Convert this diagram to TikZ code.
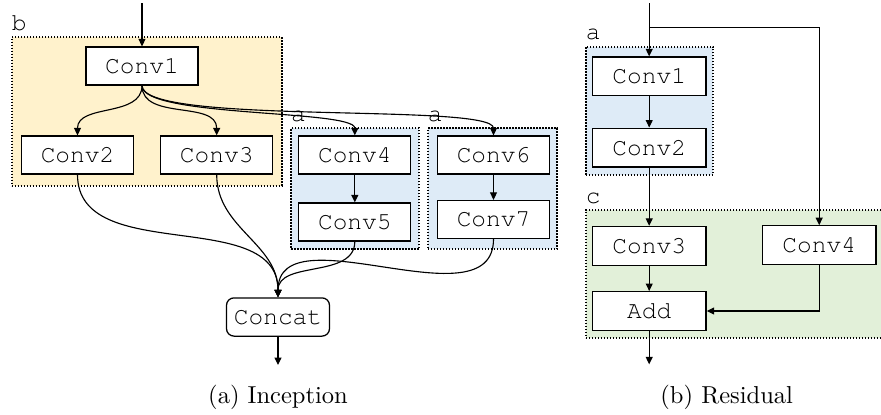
\documentclass[tikz,border=0pt]{standalone}
\usepackage[T1,TU]{fontenc}
\newcommand{\courierfont}{\fontencoding{T1}\fontfamily{pcr}\selectfont}
\usetikzlibrary{arrows.meta}
\definecolor{boxyellow}{HTML}{FFF2CC}
\definecolor{boxblue}{HTML}{DEEBF7}
\definecolor{boxgreen}{HTML}{E2F0D9}
\tikzset{
  grp/.style={draw, line width=0.7pt, dash pattern=on 0.6pt off 0.6pt, inner sep=0pt},
  grplbl/.style={anchor=south west, inner xsep=0.2pt, inner ysep=2pt, font=\fontsize{9.8}{11}\courierfont},
  op/.style={draw, line width=0.5pt, fill=white, minimum width=44.8pt, minimum height=15.2pt, inner sep=0pt, font=\fontsize{9.8}{11}\courierfont},
  rop/.style={op, minimum width=45.5pt, minimum height=15.5pt},
  arr/.style={line width=0.45pt, -{Triangle[length=3pt,width=2.8pt]}},
  subcap/.style={font=\fontsize{9.8}{12}\selectfont, inner sep=0pt}
}
\begin{document}
\begin{tikzpicture}[x=0.4pt, y=0.4pt]
\useasboundingbox (0,0) rectangle (881,-414);
% group boxes
\node[grp, fill=boxyellow, minimum width=108pt, minimum height=59.4pt] (gb) at (146.7,-111.5) {};
\node[grp, fill=boxblue, minimum width=51.3pt, minimum height=48.3pt] (ga1) at (355.2,-188.7) {};
\node[grp, fill=boxblue, minimum width=51.8pt, minimum height=48.3pt] (ga2) at (492.5,-188.7) {};
\node[grp, fill=boxblue, minimum width=51pt, minimum height=51.3pt] (ga3) at (649.5,-110.8) {};
\node[grp, fill=boxgreen, minimum width=119.3pt, minimum height=51.1pt] (gc) at (734.9,-273.9) {};
\node[grplbl] (lb) at (gb.north west) {b};
\node[grplbl] (la1) at (ga1.north west) {a};
\node[grplbl] (la2) at (ga2.north west) {a};
\node[grplbl] (la3) at (ga3.north west) {a};
\node[grplbl] (lc) at (gc.north west) {c};
% (a) Inception
\node[op] (c1) at (142,-66) {Conv1};
\node[op] (c2) at (77.5,-155) {Conv2};
\node[op] (c3) at (216.7,-155) {Conv3};
\node[op] (c4) at (354.8,-155) {Conv4};
\node[op] (c5) at (354.8,-222) {Conv5};
\node[op] (c6) at (493.5,-155) {Conv6};
\node[op] (c7) at (493.5,-219.5) {Conv7};
\node[op, rounded corners=3pt, minimum width=41.2pt, minimum height=15.3pt] (cc) at (278,-317) {Concat};
\coordinate (lin) at (142,-3);
\coordinate (lout) at (278,-365);
\draw[arr] (lin) -- (c1);
\draw[arr] (c1.south) to[out=-90,in=90] (c2.north);
\draw[arr] (c1.south) to[out=-90,in=90] (c3.north);
\draw[arr] (c1.south) .. controls +(0,-32) and +(0,26) .. (c4.north);
\draw[arr] (c1.south) .. controls +(0,-40) and +(0,33) .. (c6.north);
\draw[arr] (c4) -- (c5);
\draw[arr] (c6) -- (c7);
\draw[arr] (c2.south) to[out=-90,in=90] (cc.north);
\draw[arr] (c3.south) to[out=-90,in=90] (cc.north);
\draw[arr] (c5.south) to[out=-90,in=90] (cc.north);
\draw[arr] (c7.south) to[out=-90,in=90] (cc.north);
\draw[arr] (cc) -- (lout);
\node[subcap] (capa) at (278,-397) {(a) Inception};
% (b) Residual
\node[rop] (r1) at (649.2,-76.3) {Conv1};
\node[rop] (r2) at (649.2,-147.5) {Conv2};
\node[rop] (r3) at (649.2,-245.8) {Conv3};
\node[rop] (r4) at (819.2,-245.2) {Conv4};
\node[rop] (add) at (649.2,-311) {Add};
\coordinate (rin) at (649.2,-3);
\coordinate (rsplit) at (649.2,-27.3);
\coordinate (rout) at (649.2,-364.3);
\draw[arr] (rin) -- (r1);
\draw[arr] (rsplit) -| (r4.north);
\draw[arr] (r1) -- (r2);
\draw[arr] (r2) -- (r3);
\draw[arr] (r3) -- (add);
\draw[arr] (r4.south) |- (add.east);
\draw[arr] (add) -- (rout);
\node[subcap] (capb) at (726.7,-397) {(b) Residual};
\end{tikzpicture}
\end{document}
